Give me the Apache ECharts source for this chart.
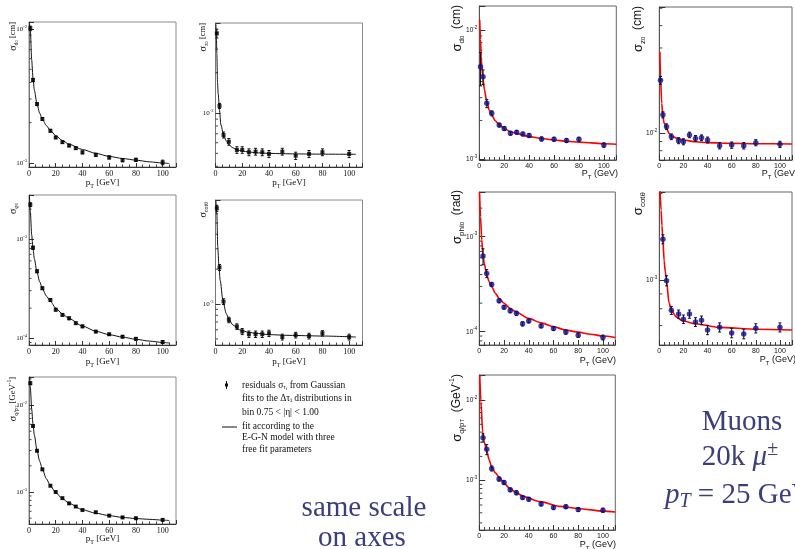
<!DOCTYPE html>
<html>
<head>
<meta charset="utf-8">
<script src="https://cdn.jsdelivr.net/npm/echarts@6.0.0/dist/echarts.min.js"></script>
<style>
html,body{margin:0;padding:0;background:#ffffff;}
#chart{width:795px;height:549px;}
</style>
</head>
<body>
<div id="chart"></div>
<script>
// ================= DATA =================
// Left block (black, E-G-N fits)
const ptLeft = [1,3,6,10,16,20,25,30,35,40,50,60,70,80,100];

const sigD0Left = [1.01e-2,4.16e-3,2.75e-3,2.13e-3,1.74e-3,1.55e-3,1.43e-3,1.35e-3,1.29e-3,1.20e-3,1.15e-3,1.10e-3,1.05e-3,1.055e-3,1.01e-3];
const errD0Left = [4e-4,1.2e-4,6e-5,5e-5,4e-5,3e-5,3e-5,3e-5,3e-5,3e-5,3e-5,3e-5,3e-5,3e-5,4e-5];
const fitXD0Left = [0.3,1,2,3,4,6,8,10,13,16,20,25,30,40,50,60,70,80,90,100,105];
const fitD0Left = [1.12e-2,9.8e-3,5.9e-3,4.3e-3,3.5e-3,2.75e-3,2.35e-3,2.12e-3,1.9e-3,1.75e-3,1.6e-3,1.47e-3,1.38e-3,1.26e-3,1.18e-3,1.12e-3,1.08e-3,1.05e-3,1.02e-3,1.0e-3,0.99e-3];

const sigZ0Left = [3.93e-2,1.13e-2,6.86e-3,6.1e-3,5.3e-3,5.3e-3,5.1e-3,5.15e-3,5.1e-3,4.95e-3,5.15e-3,4.8e-3,4.95e-3,5.1e-3,4.95e-3];
const errZ0Left = [3e-3,5e-4,3.5e-4,3.5e-4,3e-4,3e-4,3e-4,3e-4,3e-4,3e-4,3e-4,3e-4,3e-4,3e-4,3e-4];
const fitXZ0Left = [0.3,0.7,1,1.5,2,3,4,6,8,10,13,16,20,25,30,40,50,60,80,100,105];
const fitZ0Left = [4.6e-2,3.6e-2,2.8e-2,1.7e-2,1.4e-2,1.05e-2,8.2e-3,6.9e-3,6.2e-3,5.8e-3,5.5e-3,5.3e-3,5.2e-3,5.12e-3,5.05e-3,5.0e-3,4.97e-3,4.95e-3,4.93e-3,4.92e-3,4.92e-3];

const sigPhiLeft = [2.22e-3,8.15e-4,4.72e-4,3.18e-4,2.42e-4,1.93e-4,1.71e-4,1.58e-4,1.41e-4,1.31e-4,1.16e-4,1.09e-4,1.03e-4,9.8e-5,9.1e-5];
const errPhiLeft = [1e-4,3e-5,1.5e-5,1e-5,8e-6,6e-6,5e-6,5e-6,4e-6,4e-6,3e-6,3e-6,3e-6,3e-6,3e-6];
const fitXPhiLeft = [0.3,1,2,3,4,6,8,10,13,16,20,25,30,40,50,60,70,80,90,100,105];
const fitPhiLeft = [2.75e-3,1.9e-3,1.1e-3,8.0e-4,6.3e-4,4.6e-4,3.7e-4,3.15e-4,2.65e-4,2.35e-4,2.0e-4,1.75e-4,1.57e-4,1.32e-4,1.17e-4,1.08e-4,1.02e-4,9.7e-5,9.3e-5,9.0e-5,8.9e-5];

const sigCotLeft = [6.7e-3,2.07e-3,1.05e-3,7.3e-4,6.4e-4,5.8e-4,5.5e-4,5.5e-4,5.5e-4,5.6e-4,5.2e-4,5.4e-4,5.3e-4,5.6e-4,5.2e-4];
const errCotLeft = [4e-4,1.2e-4,6e-5,4e-5,3.5e-5,3.5e-5,3.5e-5,3.5e-5,3.5e-5,3.5e-5,3e-5,3e-5,3e-5,3e-5,3e-5];
const fitXCotLeft = [0.3,1,1.7,2.5,3.5,5.5,8,10,13,18,25,30,40,55,80,105];
const fitCotLeft = [7.8e-3,6.0e-3,3.1e-3,2.2e-3,1.6e-3,1.08e-3,8.3e-4,7.4e-4,6.6e-4,6.0e-4,5.7e-4,5.6e-4,5.45e-4,5.37e-4,5.3e-4,5.2e-4];

const sigQpLeft = [1.78e-2,5.74e-3,2.98e-3,1.82e-3,1.18e-3,1.0e-3,8.5e-4,7.4e-4,6.8e-4,6.2e-4,5.85e-4,5.35e-4,5.1e-4,4.99e-4,4.78e-4];
const errQpLeft = [6e-4,1.5e-4,8e-5,5e-5,3e-5,2.5e-5,2e-5,2e-5,1.5e-5,1.5e-5,1.5e-5,1.5e-5,1.5e-5,1.5e-5,1.5e-5];
const fitXQpLeft = [0.5,1,2,3,4,6,8,10,13,16,20,25,30,40,50,60,70,80,90,100,105];
const fitQpLeft = [2.1e-2,1.6e-2,9e-3,6e-3,4.5e-3,3.0e-3,2.25e-3,1.83e-3,1.42e-3,1.18e-3,9.8e-4,8.4e-4,7.4e-4,6.25e-4,5.7e-4,5.35e-4,5.1e-4,4.95e-4,4.85e-4,4.75e-4,4.7e-4];

// Right block (muons, blue points, red fits)
const ptRight = [1,3,6,10,16,20,25,30,35,40,50,60,70,80,100];
const ptRight3 = [3,6,10,16,20,25,30,35,40,50,60,70,80,100];

const sigD0Right = [5.2e-3,4.35e-3,2.71e-3,2.27e-3,1.84e-3,1.73e-3,1.59e-3,1.62e-3,1.57e-3,1.53e-3,1.44e-3,1.43e-3,1.40e-3,1.43e-3,1.29e-3];
const errD0Right = [1.5e-3,5.7e-4,2e-4,1e-4,6e-5,6e-5,5e-5,5e-5,5e-5,5e-5,5e-5,5e-5,5e-5,5e-5,5e-5];
const fitXD0Right = [0.3,1,1.5,2,3,4,6,8,10,13,16,20,25,30,40,50,60,70,80,90,100,110];
const fitD0Right = [1.2e-2,8.5e-3,6.2e-3,5.2e-3,4.2e-3,3.5e-3,2.8e-3,2.4e-3,2.2e-3,1.98e-3,1.85e-3,1.73e-3,1.64e-3,1.58e-3,1.5e-3,1.45e-3,1.41e-3,1.38e-3,1.36e-3,1.34e-3,1.32e-3,1.31e-3];

const sigZ0Right = [1.98e-2,1.27e-2,1.09e-2,9.57e-3,9.1e-3,8.98e-3,9.8e-3,9.37e-3,9.45e-3,9.18e-3,8.53e-3,8.6e-3,8.53e-3,8.87e-3,8.68e-3];
const errZ0Right = [1e-3,5e-4,4e-4,3.5e-4,3.5e-4,3.5e-4,3.5e-4,3.5e-4,3.5e-4,3.5e-4,3.5e-4,3.5e-4,3.5e-4,3.5e-4,3.5e-4];
const fitXZ0Right = [0.5,1,2,3,4,6,8,10,15,20,30,40,60,80,110];
const fitZ0Right = [2.86e-2,2.07e-2,1.47e-2,1.24e-2,1.14e-2,1.07e-2,1.0e-2,9.66e-3,9.37e-3,9.18e-3,8.98e-3,8.87e-3,8.79e-3,8.75e-3,8.72e-3];

const sigPhiRight = [6.27e-4,4.11e-4,3.15e-4,2.12e-4,1.81e-4,1.66e-4,1.56e-4,1.21e-4,1.30e-4,1.15e-4,1.08e-4,9.9e-5,9.2e-5,8.7e-5];
const errPhiRight = [1.2e-4,4e-5,1.5e-5,1e-5,8e-6,8e-6,8e-6,6e-6,6e-6,5e-6,5e-6,5e-6,5e-6,5e-6];
const fitXPhiRight = [0.2,1,2,3,4,6,8,10,13,16,20,25,30,40,50,60,70,80,90,100,110];
const fitPhiRight = [2.95e-3,1.62e-3,9.2e-4,6.4e-4,5.24e-4,3.95e-4,3.36e-4,2.98e-4,2.54e-4,2.25e-4,1.99e-4,1.76e-4,1.6e-4,1.38e-4,1.24e-4,1.13e-4,1.04e-4,9.9e-5,9.4e-5,9.0e-5,8.7e-5];

const sigCotRight = [1.39e-3,1.0e-3,7.9e-4,7.67e-4,7.36e-4,7.67e-4,7.2e-4,7.3e-4,6.76e-4,6.9e-4,6.6e-4,6.55e-4,6.85e-4,6.9e-4];
const errCotRight = [5e-5,4e-5,2.5e-5,2.5e-5,2.5e-5,2.5e-5,2.5e-5,2.5e-5,2.5e-5,2.5e-5,2.5e-5,2.5e-5,2.5e-5,2.5e-5];
const fitXCotRight = [0.6,1.5,2.2,3,4,5,6,8,10,14,19,30,49,81,110];
const fitCotRight = [2.04e-3,1.75e-3,1.55e-3,1.38e-3,1.17e-3,1.07e-3,1.0e-3,8.4e-4,7.9e-4,7.5e-4,7.27e-4,7.1e-4,6.9e-4,6.8e-4,6.76e-4];

const sigQpRight = [3.41e-3,2.45e-3,1.42e-3,1.05e-3,9.5e-4,7.7e-4,7.1e-4,6.2e-4,5.9e-4,5.13e-4,4.64e-4,4.77e-4,4.4e-4,4.3e-4];
const errQpRight = [4e-4,3.5e-4,1e-4,6e-5,5e-5,4e-5,4e-5,3e-5,3e-5,2.5e-5,2.5e-5,2.5e-5,2.5e-5,2.5e-5];
const fitXQpRight = [0.4,1.3,2.7,4,5.9,8,10,13,16.7,20,24.7,30,35.5,49,65,81,100,110];
const fitQpRight = [2.0e-2,9.5e-3,4.05e-3,3.0e-3,2.4e-3,1.8e-3,1.49e-3,1.25e-3,1.07e-3,9.3e-4,8.0e-4,7.1e-4,6.4e-4,5.5e-4,4.8e-4,4.5e-4,4.2e-4,4.1e-4];

const xTickLabels = [0,20,40,60,80,100];

// ================= LAYOUT / STYLE =================
const SERIF = '"Liberation Serif", "Times New Roman", serif';
const SANS = '"Liberation Sans", Arial, sans-serif';
const TEXT_BLUE = '#3b3e7c';
const POINT_BLUE = '#10108c';

const panels = [
  {side:'L', box:[29,22,147,145],   logMin:-3.030, logMax:-1.948, x:ptLeft, y:sigD0Left,  e:errD0Left,  fx:fitXD0Left,  fy:fitD0Left},
  {side:'L', box:[215.5,23,147,144],logMin:-2.403, logMax:-1.328, x:ptLeft, y:sigZ0Left,  e:errZ0Left,  fx:fitXZ0Left,  fy:fitZ0Left},
  {side:'L', box:[29,195,147,150],  logMin:-4.071, logMax:-2.556, x:ptLeft, y:sigPhiLeft, e:errPhiLeft, fx:fitXPhiLeft, fy:fitPhiLeft},
  {side:'L', box:[215.5,200,147,145],logMin:-3.353, logMax:-2.103, x:ptLeft, y:sigCotLeft, e:errCotLeft, fx:fitXCotLeft, fy:fitCotLeft},
  {side:'L', box:[29,377,147,147],  logMin:-3.368, logMax:-1.678, x:ptLeft, y:sigQpLeft,  e:errQpLeft,  fx:fitXQpLeft,  fy:fitQpLeft},
  {side:'R', box:[479.3,6,137,154],   logMin:-3.005, logMax:-1.814, x:ptRight,  y:sigD0Right,  e:errD0Right,  fx:fitXD0Right,  fy:fitD0Right},
  {side:'R', box:[659.3,7,136,153],   logMin:-2.149, logMax:-1.294, x:ptRight,  y:sigZ0Right,  e:errZ0Right,  fx:fitXZ0Right,  fy:fitZ0Right},
  {side:'R', box:[479.3,192,136,153], logMin:-4.14,  logMax:-2.529, x:ptRight3, y:sigPhiRight, e:errPhiRight, fx:fitXPhiRight, fy:fitPhiRight},
  {side:'R', box:[659.3,192,136,153], logMin:-3.222, logMax:-2.694, x:ptRight3, y:sigCotRight, e:errCotRight, fx:fitXCotRight, fy:fitCotRight},
  {side:'R', box:[479.3,375,136,155], logMin:-3.611, logMax:-1.69,  x:ptRight3, y:sigQpRight,  e:errQpRight,  fx:fitXQpRight,  fy:fitQpRight}
];

const grids = [], xAxes = [], yAxes = [], series = [];

panels.forEach((p, i) => {
  const L = p.side === 'L';
  grids.push({left:p.box[0], top:p.box[1], width:p.box[2], height:p.box[3],
    show:true, borderColor: L ? '#8a8a8a' : '#666666', borderWidth:1, backgroundColor:'transparent'});
  xAxes.push({
    type:'value', gridIndex:i, min:0, max:110, interval:20,
    axisLine:{show:true, onZero:false, lineStyle:{color: L ? '#333' : '#555', width:1}},
    axisTick:{show:true, inside:true, length: L ? 4 : 5, lineStyle:{color:'#333'}},
    minorTick:{show:true, splitNumber: L ? 4 : 5, length: L ? 2.5 : 3, lineStyle:{color:'#444'}},
    splitLine:{show:false}, minorSplitLine:{show:false},
    axisLabel:{margin:3, fontSize: L ? 8 : 7, fontFamily: L ? SERIF : SANS, color:'#111',
      formatter: v => (xTickLabels.indexOf(Math.round(v)) >= 0 && Math.abs(v - Math.round(v)) < 1e-6) ? String(Math.round(v)) : ''}
  });
  yAxes.push({
    type:'log', logBase:10, gridIndex:i, min:Math.pow(10,p.logMin), max:Math.pow(10,p.logMax),
    axisLine:{show:true, onZero:false, lineStyle:{color: L ? '#777' : '#555'}},
    axisTick:{show:true, inside:true, length: L ? 5 : 6, lineStyle:{color:'#333'}},
    minorTick:{show:false}, splitLine:{show:false}, minorSplitLine:{show:false},
    axisLabel:{margin:2, color:'#111',
      formatter: v => {
        const e = Math.log10(v);
        if (Math.abs(e - Math.round(e)) > 1e-6) return '';
        return '{b|10}{s|' + Math.round(e) + '}';
      },
      rich:{
        b:{fontFamily: L ? SERIF : SANS, fontSize: L ? 7 : 6.5, lineHeight:10, color:'#111'},
        s:{fontFamily: L ? SERIF : SANS, fontSize: 4.5, lineHeight:5, verticalAlign:'top', color:'#111'}
      }
    }
  });

  // minor log ticks (axis decoration at 2..9 x 10^k)
  const minorData = [];
  for (let k = Math.floor(p.logMin); k <= Math.ceil(p.logMax); k++) {
    for (let m = 2; m <= 9; m++) {
      const v = m * Math.pow(10, k);
      const lv = Math.log10(v);
      if (lv > p.logMin + 0.003 && lv < p.logMax - 0.003) minorData.push([0, v]);
    }
  }
  series.push({
    type:'custom', xAxisIndex:i, yAxisIndex:i, silent:true, data:minorData,
    encode:{x:0, y:1},
    renderItem:(params, api) => {
      const c = api.coord([api.value(0), api.value(1)]);
      return {type:'line', shape:{x1:c[0], y1:c[1], x2:c[0] + (L ? 2.5 : 3), y2:c[1]},
        style:{stroke:'#444', lineWidth:1}};
    }
  });

  // error bars
  series.push({
    type:'custom', xAxisIndex:i, yAxisIndex:i, silent:true, z:3,
    data: p.x.map((x, j) => [x, p.y[j] - p.e[j], p.y[j] + p.e[j]]),
    encode:{x:0, y:[1,2]},
    renderItem:(params, api) => {
      const a = api.coord([api.value(0), api.value(2)]);
      const b = api.coord([api.value(0), api.value(1)]);
      const cap = 1.5;
      const st = {stroke:'#111', lineWidth:1};
      return {type:'group', children:[
        {type:'line', shape:{x1:a[0], y1:a[1], x2:b[0], y2:b[1]}, style:st},
        {type:'line', shape:{x1:a[0]-cap, y1:a[1], x2:a[0]+cap, y2:a[1]}, style:st},
        {type:'line', shape:{x1:b[0]-cap, y1:b[1], x2:b[0]+cap, y2:b[1]}, style:st}
      ]};
    }
  });

  // fit curve
  series.push({
    type:'line', xAxisIndex:i, yAxisIndex:i, silent:true, z:2,
    data: p.fx.map((x, j) => [x, p.fy[j]]),
    showSymbol:false, smooth:0.25, smoothMonotone:'x', clip:true,
    lineStyle:{color: L ? '#111' : '#ff0000', width: L ? 1 : 1.6}
  });

  // points
  series.push({
    type:'scatter', xAxisIndex:i, yAxisIndex:i, silent:true, z:4,
    data: p.x.map((x, j) => [x, p.y[j]]),
    symbol: L ? 'rect' : 'circle', symbolSize: L ? 4 : 5.5,
    itemStyle:{color: L ? '#000' : POINT_BLUE}
  });
});

// ================= TEXT =================
function vTitle(x, yTop, text, rich) {
  return {type:'text', x:x, y:yTop, rotation:Math.PI/2, silent:true,
    style:{text:text, rich:rich, align:'right', verticalAlign:'middle', fill:'#111'}};
}
function hText(x, y, text, rich, align, fill) {
  return {type:'text', x:x, y:y, silent:true,
    style:{text:text, rich:rich, align:align || 'left', verticalAlign:'middle', fill:fill || '#111'}};
}

const richLT = {
  g:{fontFamily:SERIF, fontSize:10, lineHeight:13, fill:'#111'},
  r:{fontFamily:SERIF, fontSize:8.5, lineHeight:13, fill:'#111'},
  sb:{fontFamily:SERIF, fontSize:6, lineHeight:6, verticalAlign:'bottom', fill:'#111'},
  sb2:{fontFamily:SERIF, fontSize:4.5, lineHeight:4.5, verticalAlign:'bottom', fill:'#111'},
  sp:{fontFamily:SERIF, fontSize:5.5, lineHeight:5.5, verticalAlign:'top', fill:'#111'}
};
const richRT = {
  g:{fontFamily:SANS, fontSize:13, lineHeight:17, fill:'#111'},
  r:{fontFamily:SANS, fontSize:12, lineHeight:17, fill:'#111'},
  sb:{fontFamily:SANS, fontSize:8, lineHeight:8, verticalAlign:'bottom', fill:'#111'},
  sb2:{fontFamily:SANS, fontSize:6, lineHeight:6, verticalAlign:'bottom', fill:'#111'},
  sp:{fontFamily:SANS, fontSize:7, lineHeight:7, verticalAlign:'top', fill:'#111'}
};
const richLX = {
  r:{fontFamily:SERIF, fontSize:9, lineHeight:12, fill:'#111'},
  sb:{fontFamily:SERIF, fontSize:6, lineHeight:6, verticalAlign:'bottom', fill:'#111'}
};
const richRX = {
  r:{fontFamily:SANS, fontSize:9, lineHeight:12, fill:'#111'},
  sb:{fontFamily:SANS, fontSize:6, lineHeight:6, verticalAlign:'bottom', fill:'#111'}
};
const richLeg = {
  r:{fontFamily:SERIF, fontSize:9.5, lineHeight:12, fill:'#111'},
  sb:{fontFamily:SERIF, fontSize:6.5, lineHeight:6, verticalAlign:'bottom', fill:'#111'},
  sb2:{fontFamily:SERIF, fontSize:5, lineHeight:5, verticalAlign:'bottom', fill:'#111'}
};
const richBig = {
  r:{fontFamily:SERIF, fontSize:29, lineHeight:34, fill:TEXT_BLUE},
  i:{fontFamily:SERIF, fontSize:29, lineHeight:34, fontStyle:'italic', fill:TEXT_BLUE},
  sb:{fontFamily:SERIF, fontSize:20, lineHeight:20, fontStyle:'italic', verticalAlign:'bottom', fill:TEXT_BLUE},
  sp:{fontFamily:SERIF, fontSize:20, lineHeight:20, verticalAlign:'top', fill:TEXT_BLUE}
};

const graphics = [
  // left y titles
  vTitle(13, 22, '{g|σ}{sb|d}{sb2|0}{r| [cm]}', richLT),
  vTitle(203, 23, '{g|σ}{sb|z}{sb2|0}{r| [cm]}', richLT),
  vTitle(13, 203, '{g|σ}{sb|φ}{sb2|0}', richLT),
  vTitle(203, 202, '{g|σ}{sb|cotθ}', richLT),
  vTitle(13, 377, '{g|σ}{sb|q/p}{sb2|T}{r| [GeV}{sp|-1}{r|]}', richLT),
  // left x titles
  hText(102.5, 183, '{r|p}{sb|T}{r| [GeV]}', richLX, 'center'),
  hText(289, 183, '{r|p}{sb|T}{r| [GeV]}', richLX, 'center'),
  hText(102.5, 362, '{r|p}{sb|T}{r| [GeV]}', richLX, 'center'),
  hText(289, 362, '{r|p}{sb|T}{r| [GeV]}', richLX, 'center'),
  hText(102.5, 539, '{r|p}{sb|T}{r| [GeV]}', richLX, 'center'),
  // right y titles
  vTitle(457, 5, '{g|σ}{sb|d}{sb2|0}{r|  (cm)}', richRT),
  vTitle(638, 6, '{g|σ}{sb|z}{sb2|0}{r|  (cm)}', richRT),
  vTitle(457, 190, '{g|σ}{sb|phi}{sb2|0}{r|  (rad)}', richRT),
  vTitle(638, 192, '{g|σ}{sb|cotθ}', richRT),
  vTitle(457, 374, '{g|σ}{sb|q/p}{sb2|T}{r|  (GeV}{sp|-1}{r|)}', richRT),
  // right x titles
  hText(618, 174, '{r|P}{sb|T}{r| (GeV)}', richRX, 'right'),
  hText(798, 174, '{r|P}{sb|T}{r| (GeV)}', richRX, 'right'),
  hText(616, 361, '{r|P}{sb|T}{r| (GeV)}', richRX, 'right'),
  hText(796, 360, '{r|P}{sb|T}{r| (GeV)}', richRX, 'right'),
  hText(616, 545, '{r|P}{sb|T}{r| (GeV)}', richRX, 'right'),
  // legend of the left block
  {type:'line', silent:true, shape:{x1:226.5, y1:381, x2:226.5, y2:389}, style:{stroke:'#111', lineWidth:1}},
  {type:'rect', silent:true, shape:{x:225, y:383.5, width:3, height:3}, style:{fill:'#111'}},
  hText(242, 385, '{r|residuals σ}{sb|τ}{sb2|i}{r| from Gaussian}', richLeg),
  hText(242, 398, '{r|fits to the Δτ}{sb|i}{r| distributions in}', richLeg),
  hText(242, 412.5, '{r|bin 0.75 < |η| < 1.00}', richLeg),
  {type:'line', silent:true, shape:{x1:222, y1:427, x2:237, y2:427}, style:{stroke:'#111', lineWidth:1}},
  hText(242, 426.5, '{r|fit according to the}', richLeg),
  hText(242, 437.5, '{r|E-G-N model with three}', richLeg),
  hText(242, 449, '{r|free fit parameters}', richLeg),
  // large blue annotations
  hText(364, 508, '{r|same scale}', richBig, 'center', TEXT_BLUE),
  hText(362, 538, '{r|on axes}', richBig, 'center', TEXT_BLUE),
  hText(742, 422, '{r|Muons}', richBig, 'center', TEXT_BLUE),
  hText(740, 457, '{r|20k }{i|μ}{sp|±}', richBig, 'center', TEXT_BLUE),
  hText(665, 495, '{i|p}{sb|T}{r| = 25 GeV}', richBig, 'left', TEXT_BLUE)
];

const chart = echarts.init(document.getElementById('chart'), null, {renderer:'canvas', width:795, height:549});
chart.setOption({
  animation:false,
  backgroundColor:'#ffffff',
  grid:grids, xAxis:xAxes, yAxis:yAxes, series:series, graphic:graphics
});
</script>
</body>
</html>
